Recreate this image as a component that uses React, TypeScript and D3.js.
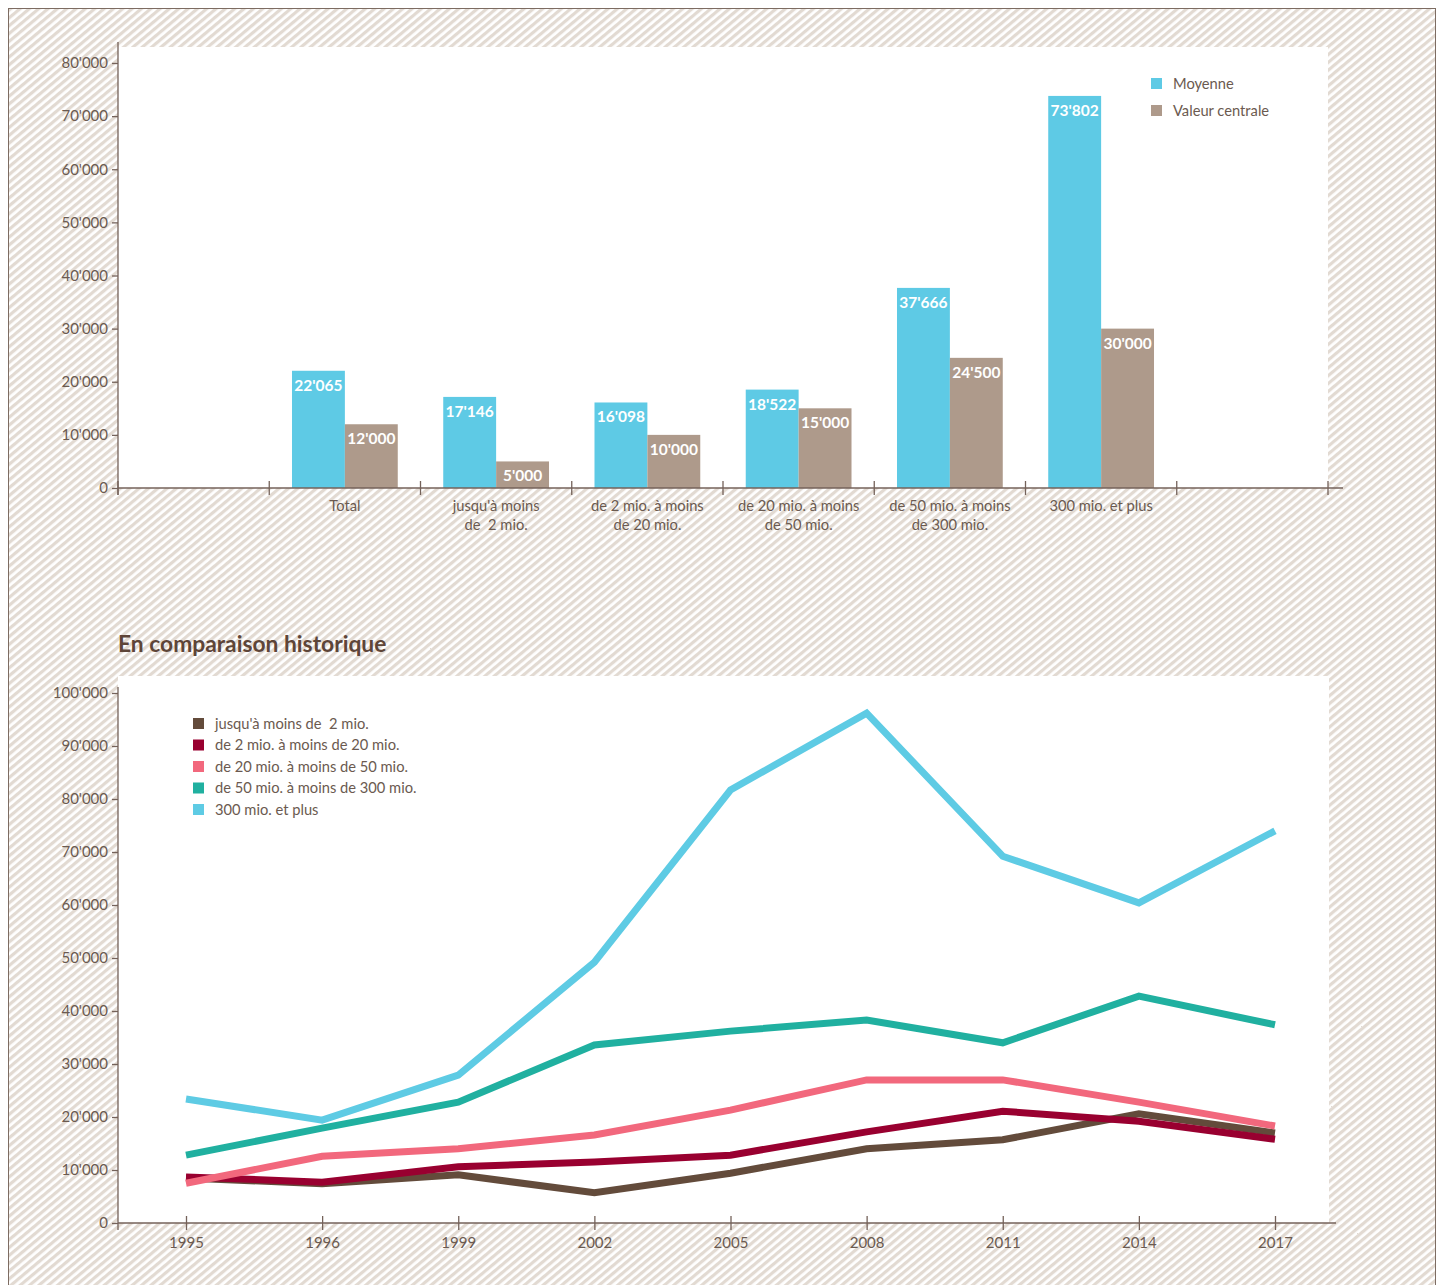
import { useRef, useEffect } from "react";
import * as d3 from "d3";

// --- top chart data
const categories = [
  "Total",
  "jusqu'à moins\nde  2 mio.",
  "de 2 mio. à moins\nde 20 mio.",
  "de 20 mio. à moins\nde 50 mio.",
  "de 50 mio. à moins\nde 300 mio.",
  "300 mio. et plus",
];
const measures = ["Moyenne", "Valeur centrale"];
const moyenne = [22065, 17146, 16098, 18522, 37666, 73802];
const valeurCentrale = [12000, 5000, 10000, 15000, 24500, 30000];
const topTicks = [0, 10000, 20000, 30000, 40000, 50000, 60000, 70000, 80000];

// --- bottom chart data
const years = ["1995", "1996", "1999", "2002", "2005", "2008", "2011", "2014", "2017"];
const seriesNames = [
  "jusqu'à moins de  2 mio.",
  "de 2 mio. à moins de 20 mio.",
  "de 20 mio. à moins de 50 mio.",
  "de 50 mio. à moins de 300 mio.",
  "300 mio. et plus",
];
const moins2 = [8500, 7400, 9100, 5700, 9400, 14000, 15700, 20600, 17000];
const de2a20 = [8700, 7700, 10600, 11500, 12800, 17200, 21100, 19200, 15800];
const de20a50 = [7500, 12600, 14000, 16600, 21300, 27000, 27000, 22800, 18300];
const de50a300 = [12800, 17900, 22800, 33600, 36200, 38300, 34000, 42800, 37400];
const plus300 = [23400, 19400, 27900, 49200, 81700, 96200, 69200, 60400, 74000];
const bottomTicks = [0, 10000, 20000, 30000, 40000, 50000, 60000, 70000, 80000, 90000, 100000];

const BLUE = "#5ecae5";
const TAUPE = "#ae9a8b";
const TEXT = "#6b5a50";
const AXIS = "#74625a";
const lineColors = ["#634b3b", "#990030", "#f2687d", "#20b0a0", "#5ecbe4"];
const FONT = "Lato, 'Open Sans', sans-serif";
const FS = 14.7;

const fmt = d3.formatLocale({ decimal: ".", thousands: "'", grouping: [3], currency: ["", ""] }).format(",d");

function App() {
  const topY = useRef(null),
    topX = useRef(null),
    botY = useRef(null),
    botX = useRef(null);

  // top chart scales
  const y1 = d3.scaleLinear().domain([0, 80000]).range([488, 63]);
  const bands = ["_start", ...categories, "_end"];
  const x1 = d3.scaleBand().domain(bands).range([118, 1328]).padding(0);
  const inner = d3.scaleBand().domain(measures).range([0, x1.bandwidth()]).paddingInner(0).paddingOuter(0.43);

  // bottom chart scales
  const y2 = d3.scaleLinear().domain([0, 100000]).range([1223, 693]);
  const x2 = d3.scalePoint().domain(years).range([186, 1275]);
  const series = [moins2, de2a20, de20a50, de50a300, plus300];
  const line = d3
    .line()
    .x((d, i) => x2(years[i]))
    .y((d) => y2(d));

  useEffect(() => {
    const styleAxis = (g) => {
      g.selectAll("line").attr("stroke", AXIS).attr("stroke-width", 1.3);
      g.selectAll("text").attr("fill", TEXT).attr("font-size", 15).attr("font-family", FONT);
      g.select(".domain").remove();
    };

    d3.select(topY.current)
      .call(d3.axisLeft(y1).tickValues(topTicks).tickFormat(fmt).tickSize(6).tickPadding(4))
      .call(styleAxis);

    // category boundaries as ticks crossing the axis
    const bounds = bands.map((b) => x1(b)).concat([x1.range()[1]]);
    d3.select(topX.current)
      .selectAll("line.tk")
      .data(bounds)
      .join("line")
      .attr("class", "tk")
      .attr("x1", (d) => d)
      .attr("x2", (d) => d)
      .attr("y1", y1(0) - 7)
      .attr("y2", y1(0) + 7)
      .attr("stroke", AXIS)
      .attr("stroke-width", 1.3);

    d3.select(botY.current)
      .call(d3.axisLeft(y2).tickValues(bottomTicks).tickFormat(fmt).tickSize(6).tickPadding(4))
      .call(styleAxis);

    d3.select(botX.current)
      .call(d3.axisBottom(x2).tickSizeInner(7).tickSizeOuter(0).tickPadding(7))
      .call(styleAxis)
      .call((g) => g.selectAll(".tick line").attr("y1", -7));
  }, []);

  return (
    <svg
      width={1447}
      height={1285}
      style={{ position: "absolute", left: 0, top: 0, fontFamily: FONT }}
    >
      <defs>
        <pattern id="stripes" patternUnits="userSpaceOnUse" width="6" height="6" patternTransform="rotate(50)">
          <rect width="6" height="6" fill="#ffffff" />
          <rect width="3.2" height="6" fill="#e2dad2" />
        </pattern>
      </defs>

      {/* hatched frame */}
      <rect x={8.5} y={8.5} width={1427} height={1290} fill="url(#stripes)" stroke="#7d6c62" strokeWidth={1} />

      {/* ---------- top chart ---------- */}
      <rect x={118} y={47} width={1210} height={441} fill="#fff" />

      {categories.map((c, i) => (
        <g key={c} transform={`translate(${x1(c)},0)`}>
          {[moyenne[i], valeurCentrale[i]].map((v, j) => (
            <g key={j}>
              <rect
                x={inner(measures[j])}
                y={y1(v)}
                width={inner.bandwidth()}
                height={y1(0) - y1(v)}
                fill={j === 0 ? BLUE : TAUPE}
              />
              <text
                x={inner(measures[j]) + inner.bandwidth() / 2}
                y={y1(v) + 20}
                textAnchor="middle"
                fill="#fff"
                fontWeight="bold"
                fontSize={15.5}
              >
                {fmt(v)}
              </text>
            </g>
          ))}
          {c.split("\n").map((t, k) => (
            <text
              key={k}
              x={x1.bandwidth() / 2}
              y={511 + k * 19}
              textAnchor="middle"
              fill={TEXT}
              fontSize={FS}
              style={{ whiteSpace: "pre" }}
            >
              {t}
            </text>
          ))}
        </g>
      ))}

      <g ref={topY} transform="translate(118,0)" />
      <line x1={118} x2={118} y1={42} y2={495} stroke={AXIS} strokeWidth={1.3} />
      <line x1={118} x2={1343} y1={488} y2={488} stroke={AXIS} strokeWidth={1.3} />
      <g ref={topX} />

      {measures.map((m, i) => (
        <g key={m} transform={`translate(1151,${78 + i * 27})`}>
          <rect width={11} height={11} fill={i === 0 ? BLUE : TAUPE} />
          <text x={22} y={10.5} fill={TEXT} fontSize={FS}>
            {m}
          </text>
        </g>
      ))}

      {/* ---------- bottom chart ---------- */}
      <text x={118} y={652} fill="#5e4538" fontSize={22.8} fontWeight="bold">
        En comparaison historique
      </text>
      <rect x={118} y={676} width={1211} height={547} fill="#fff" />

      {series.map((s, i) => (
        <path
          key={i}
          d={line(s)}
          fill="none"
          stroke={lineColors[i]}
          strokeWidth={7}
          strokeLinejoin="miter"
          strokeLinecap="butt"
        />
      ))}

      {seriesNames.map((n, i) => (
        <g key={n} transform={`translate(193,${718 + i * 21.5})`}>
          <rect width={11} height={11} fill={lineColors[i]} />
          <text x={22} y={10.5} fill={TEXT} fontSize={FS} style={{ whiteSpace: "pre" }}>
            {n}
          </text>
        </g>
      ))}

      <g ref={botY} transform="translate(118,0)" />
      <line x1={118} x2={118} y1={687} y2={1230} stroke={AXIS} strokeWidth={1.3} />
      <g ref={botX} transform="translate(0,1223)" />
      <line x1={118} x2={1336} y1={1223} y2={1223} stroke={AXIS} strokeWidth={1.3} />
    </svg>
  );
}

export default App;
